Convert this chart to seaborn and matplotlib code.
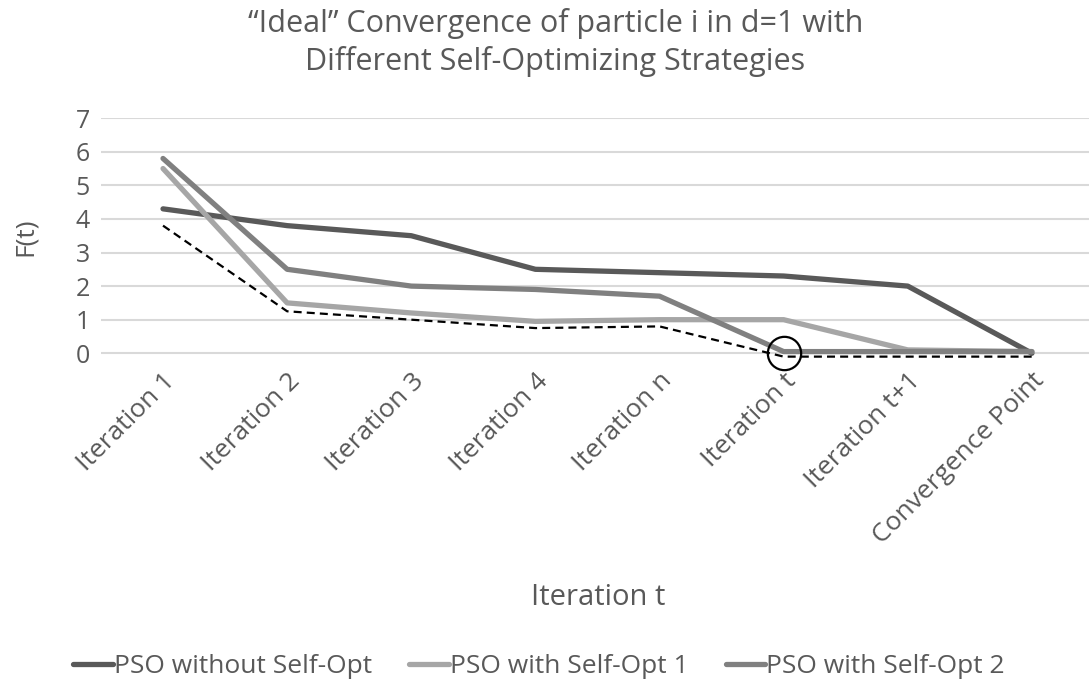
import numpy as np
import pandas as pd
import matplotlib
matplotlib.use('Agg')
import matplotlib.pyplot as plt
import seaborn as sns

# Data
categories = ['Iteration 1', 'Iteration 2', 'Iteration 3', 'Iteration 4',
              'Iteration n', 'Iteration t', 'Iteration t+1', 'Convergence Point']
pso_plain = [4.3, 3.8, 3.5, 2.5, 2.4, 2.3, 2.0, 0.0]
pso_opt1 = [5.5, 1.5, 1.2, 0.95, 1.0, 1.0, 0.1, 0.05]
pso_opt2 = [5.8, 2.5, 2.0, 1.9, 1.7, 0.05, 0.05, 0.05]
ideal = [3.8, 1.25, 1.0, 0.75, 0.8, -0.1, -0.1, -0.1]
series_names = ['PSO without Self-Opt', 'PSO with Self-Opt 1', 'PSO with Self-Opt 2']
y_ticks = [0, 1, 2, 3, 4, 5, 6, 7]

sns.set_theme(style='white')
plt.rcParams['font.family'] = ['Open Sans', 'DejaVu Sans']
text_col = '#595959'
colors = ['#595959', '#A6A6A6', '#808080']

fig = plt.figure(figsize=(10.89, 6.87), dpi=100)
ax = fig.add_axes([0.0927, 0.476, 0.9073, 0.352])

x = np.arange(len(categories))
df = pd.DataFrame({'x': np.tile(x, 3),
                   'F': pso_plain + pso_opt1 + pso_opt2,
                   'series': np.repeat(series_names, len(categories))})
sns.lineplot(data=df, x='x', y='F', hue='series', palette=colors,
             linewidth=3.8, ax=ax, legend=False, sort=False)
sns.lineplot(x=x, y=ideal, color='black', linewidth=1.6, linestyle=(0, (3.6, 2.3)),
             ax=ax, legend=False)
# circle marking convergence at iteration t
ax.plot([5], [0], marker='o', markersize=24, markerfacecolor='none',
        markeredgecolor='black', markeredgewidth=1.6, clip_on=False)

ax.set_xlim(-0.5, 7.46)
ax.set_ylim(-0.2, 7)
ax.set_yticks(y_ticks)
ax.set_xticks(x)
ax.set_xticklabels(categories, rotation=45, ha='right', rotation_mode='anchor')
ax.tick_params(axis='x', labelsize=19, colors=text_col, pad=6, length=0)
ax.tick_params(axis='y', labelsize=18, colors=text_col, pad=8, length=0)
ax.grid(axis='y', color='#D9D9D9', linewidth=1.5)
ax.set_axisbelow(True)
for s in ax.spines.values():
    s.set_visible(False)
ax.set_xlabel('')
ax.set_ylabel('')

fig.text(0.023, 0.655, 'F(t)', rotation=90, ha='center', va='center',
         fontsize=19, color=text_col)
fig.text(0.549, 0.131, 'Iteration t', ha='center', va='center',
         fontsize=21, color=text_col)
fig.text(0.51, 0.938, '\u201cIdeal\u201d Convergence of particle i in d=1 with\n'
         'Different Self-Optimizing Strategies', ha='center', va='center',
         fontsize=22, color=text_col, linespacing=1.3)

handles = [plt.Line2D([], [], color=c, linewidth=3.8) for c in colors]
leg = fig.legend(handles, series_names, loc='center', bbox_to_anchor=(0.495, 0.03),
                 ncol=3, frameon=False, fontsize=19, handlelength=1.5,
                 handletextpad=0.05, columnspacing=1.4)
for t in leg.get_texts():
    t.set_color(text_col)

fig.savefig('out.png', dpi=100)
